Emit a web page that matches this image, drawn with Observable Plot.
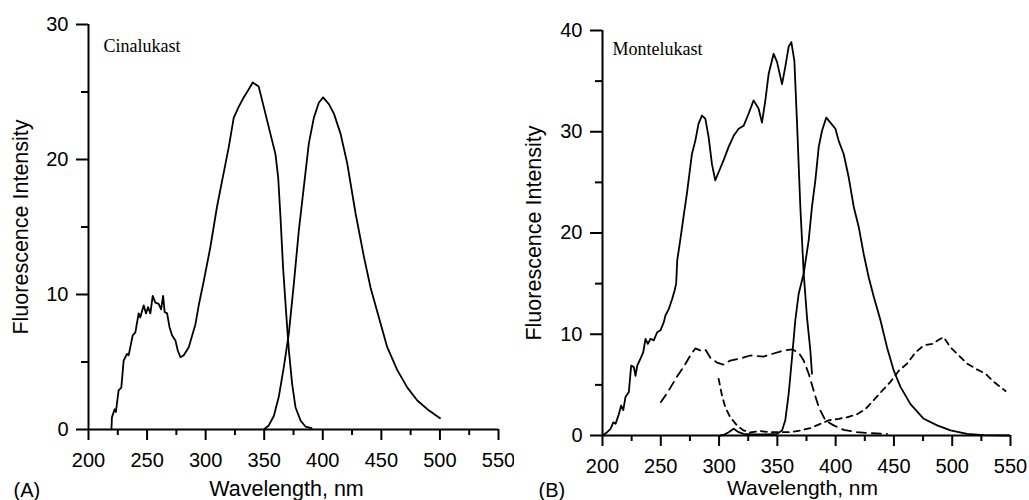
<!DOCTYPE html>
<html><head><meta charset="utf-8">
<script src="https://cdn.jsdelivr.net/npm/d3@7"></script>
<script src="https://cdn.jsdelivr.net/npm/@observablehq/plot@0.6"></script>
<style>
body{margin:0;background:#fff;}
#fig{display:flex;width:1029px;height:500px;background:#fff;}
#fig svg{display:block;}
</style></head><body><div id="fig"></div>
<script>
// ---- Axis ticks ----
const xMajorTicks = [200, 250, 300, 350, 400, 450, 500, 550];
const xMinorTicks = [225, 275, 325, 375, 425, 475, 525];
const yMajorTicksA = [0, 10, 20, 30];
const yMinorTicksA = [5, 15, 25];
const yMajorTicksB = [0, 10, 20, 30, 40];
const yMinorTicksB = [5, 15, 25, 35];

// ---- Labels ----
const xAxisLabel = "Wavelength, nm";
const yAxisLabel = "Fluorescence Intensity";
const titleA = "Cinalukast";
const titleB = "Montelukast";
const tagA = "(A)";
const tagB = "(B)";

// ---- Panel A: Cinalukast [wavelength nm, intensity] ----
const cinaExcitation = [
  [219.4,0],[219.6,0.05],[220,0.9],[222.3,1.5],[223.4,1.3],[225.7,2.9],[228,3.1],[230,5.1],
  [231.4,5.35],[232.9,5.6],[234.3,5.5],[235.7,6.1],[237.7,6.96],[240,7.2],[242.8,8.6],[244.2,8.3],
  [247.1,9.2],[249.1,8.6],[250.8,9.06],[252.8,8.6],[254.8,9.9],[257.1,9.4],[259.9,9.3],[262,8.9],
  [263.7,9.9],[265,8.7],[267.1,8.6],[269.1,7.6],[271.4,6.96],[274.2,6.6],[276.2,5.85],[278.5,5.35],
  [281.3,5.5],[285.6,6.1],[288.5,6.96],[291.3,7.8],[294.1,9.2],[298.4,11.0],
  [304,13.5],[309.7,16.5],[314,18.4],[319.7,20.9],[324,23.1],[328.2,23.9],[332.5,24.6],[336.8,25.2],
  [340.2,25.7],[345.3,25.4],[349.6,23.9],[355.3,21.9],[359.6,20.4],[361.9,18.7],[363.9,15.7],
  [366.1,12.0],[369,8.3],[371,5.9],[373.8,3.4],[376.7,1.65],[381,0.67],[385.2,0.22],[390.4,0.1]
];
const cinaEmission = [
  [349.6,0],[353.9,0.3],[358.2,1.0],[362.4,2.4],[366.7,4.6],[371,7.1],[375.3,10.8],[379.5,14.7],
  [383.8,17.95],[388.1,21.2],[392.4,23.1],[396.6,24.2],[400.3,24.6],[405.2,24.1],[409.5,23.4],
  [415.2,21.9],[420.9,19.7],[428,16.0],[435.1,12.8],[440.8,10.5],[447.9,8.3],[455,6.1],[463.6,4.4],
  [472.2,3.1],[480.7,2.15],[490.7,1.4],[500.1,0.84]
];

// ---- Panel B: Montelukast ----
const monteExcitation = [
  [200,0],[204,0.33],[206.9,0.66],[209.2,1.3],[211.2,1.15],[214,2.1],[216,2.96],[217.8,2.5],
  [219.7,3.8],[222.6,4.3],[224.6,6.9],[226.9,6.75],[228.3,5.9],[229.8,6.9],[232.6,7.6],[234.9,8.2],
  [236.9,9.55],[238.9,9.05],[241.2,9.55],[244,9.4],[246.9,10.2],[249.8,10.4],[252.6,11.2],[254,11.85],
  [256.9,12.5],[259.8,13.5],[261.8,14.3],[263.2,15.0],[264.1,17.3],[266.7,19.3],
  [269.5,21.6],[272.4,23.9],[276.7,27.8],
  [279.6,29.1],[282.4,30.8],[285.3,31.6],[288.2,31.3],[291,29.5],[293.9,26.8],[296.7,25.2],
  [299.6,26.0],[303.9,27.2],[308.2,28.5],[312.5,29.6],[316.8,30.3],[321.1,30.6],[325.4,31.8],
  [329.6,33.1],[333.9,32.3],[336.8,30.9],[339.7,33.1],[342.5,35.7],[346.8,37.7],[349.7,36.9],
  [354,34.7],[356.8,36.4],[359.7,38.4],[362,38.85],[364.6,37.0],[366.9,30.8],[369.7,22.6],
  [372.6,16.0],[375.4,11.7],[378.3,8.4],[379.7,6.1]
];
const monteEmission = [
  [301,0],[303.9,0.05],[308.2,0.33],[312.5,0.66],[316.8,0.33],[321,0.16],[329.6,0.1],[341,0.1],
  [349.7,0.16],[354,0.5],[356.8,1.5],[359.7,4.1],[362.6,7.7],[365.4,11.4],[368.3,14.0],[372.6,16.0],
  [376.9,19.3],[379.7,22.6],[382.6,25.2],[385.5,28.5],[388.3,30.1],[392,31.4],[395.5,30.9],
  [399.8,30.3],[402.6,29.1],[406.9,27.8],[411.2,25.5],[415.5,22.6],[419.8,20.6],[424.1,17.9],
  [428.4,15.6],[432.7,13.7],[438.4,11.4],[444.1,8.7],[449.9,6.4],[455.6,4.8],[464.2,3.1],
  [475.6,1.65],[487.1,1.0],[498.5,0.5],[512.8,0.16],[527.1,0.03],[548.6,0]
];
const productExcitation = [
  [250.1,3.3],[256.6,4.4],[263.8,5.8],[269.5,6.75],[275.3,7.9],[279.6,8.6],[283.9,8.4],[288.2,8.5],
  [292.4,7.7],[298.2,7.2],[303.9,7.0],[309.6,7.4],[318.2,7.6],[326.8,7.9],[338.2,7.8],[346.8,8.1],
  [355.4,8.4],[362.6,8.5],[368.3,8.2],[372.6,7.4],[376.9,6.1],[381.2,4.4],[385.5,2.8],[391.2,1.5],
  [398.3,1.0],[406.9,0.56],[418.4,0.33],[429.8,0.23],[444.1,0.16]
];
const productEmission = [
  [299.6,5.6],[302.5,3.95],[305.3,2.8],[309.6,1.8],[315.3,1.0],[321,0.5],[326.8,0.3],[335.4,0.43],
  [344,0.33],[352.5,0.33],[361.1,0.33],[369.7,0.5],[378.3,0.72],[386.9,1.15],[394,1.5],[402.6,1.65],
  [409.8,1.8],[418.4,2.1],[425.5,2.6],[432.7,3.5],[439.8,4.4],[447,5.3],[454.2,6.4],[461.3,7.1],
  [468.5,8.2],[475.6,8.9],[482.8,9.05],[489.9,9.55],[492.8,9.7],[498.5,8.7],[505.7,7.9],[512.8,7.1],
  [520,6.6],[528.6,6.1],[535.7,5.3],[545.7,4.4]
];

const sans = "'Liberation Sans', Arial, Helvetica, sans-serif";
const serif = "'Liberation Serif', 'Times New Roman', serif";
const axisW = 2;

function panel(cfg) {
  const lineMarks = cfg.series.map(s => Plot.line(s.data, {
    x: d => d[0], y: d => d[1], stroke: "#000", strokeWidth: 1.8,
    strokeDasharray: s.dash, strokeLinejoin: "round"
  }));
  const y0 = cfg.yDomain[0];
  return Plot.plot({
    width: cfg.width, height: cfg.height,
    marginLeft: cfg.mL, marginRight: cfg.mR, marginTop: cfg.mT, marginBottom: cfg.mB,
    x: {domain: [200, 550]},
    y: {domain: cfg.yDomain},
    style: {fontFamily: sans, background: "#fff", color: "#000", overflow: "visible"},
    marks: [
      ...lineMarks,
      Plot.ruleY([y0], {stroke: "#000", strokeWidth: axisW}),
      Plot.ruleX([200], {stroke: "#000", strokeWidth: axisW}),
      Plot.axisX({ticks: xMajorTicks, tickSize: 11, tickPadding: 12, fontSize: 20, label: null, stroke: "#000", strokeWidth: axisW}),
      Plot.axisX({ticks: xMinorTicks, tickSize: 6, tickFormat: () => "", label: null, stroke: "#000", strokeWidth: axisW}),
      Plot.axisY({ticks: cfg.yMajor, tickSize: 12, tickPadding: 8, fontSize: 20, label: null, stroke: "#000", strokeWidth: axisW}),
      Plot.axisY({ticks: cfg.yMinor, tickSize: 7, tickFormat: () => "", label: null, stroke: "#000", strokeWidth: axisW}),
      Plot.text([xAxisLabel], {text: d => d, frameAnchor: "bottom", textAnchor: "middle", lineAnchor: "top", dy: cfg.xlDy, dx: cfg.xlDx, fontSize: cfg.xlFs, fill: "#000"}),
      Plot.text([yAxisLabel], {text: d => d, frameAnchor: "left", textAnchor: "middle", lineAnchor: "top", rotate: -90, dx: cfg.ylDx, fontSize: 21.5, fill: "#000"}),
      Plot.text([cfg.title], {text: d => d, frameAnchor: "top-left", textAnchor: "start", lineAnchor: "top", dx: cfg.tDx, dy: cfg.tDy, fontSize: 18, fontFamily: serif, fill: "#000"}),
      Plot.text([cfg.tag], {text: d => d, frameAnchor: "bottom-left", textAnchor: "start", lineAnchor: "top", dx: cfg.gDx, dy: cfg.gDy, fontSize: 20, fill: "#000"})
    ]
  });
}

const fig = document.getElementById("fig");
fig.append(panel({
  width: 514, height: 500, mL: 88, mR: 16, mT: 24, mB: 71,
  yDomain: [0, 30], yMajor: yMajorTicksA, yMinor: yMinorTicksA,
  series: [{data: cinaExcitation}, {data: cinaEmission}],
  xlDy: 51, xlDx: -7, xlFs: 21.5, ylDx: -76, title: titleA, tDx: 15, tDy: 15, tag: tagA, gDx: -75, gDy: 53
}));
fig.append(panel({
  width: 515, height: 500, mL: 88, mR: 19, mT: 30, mB: 65,
  yDomain: [0, 40], yMajor: yMajorTicksB, yMinor: yMinorTicksB,
  series: [{data: monteExcitation}, {data: monteEmission},
           {data: productExcitation, dash: "9,6"}, {data: productEmission, dash: "6,5"}],
  xlDy: 45, xlDx: -4, xlFs: 21, ylDx: -77, title: titleB, tDx: 10, tDy: 12, tag: tagB, gDx: -64, gDy: 47
}));
</script></body></html>
